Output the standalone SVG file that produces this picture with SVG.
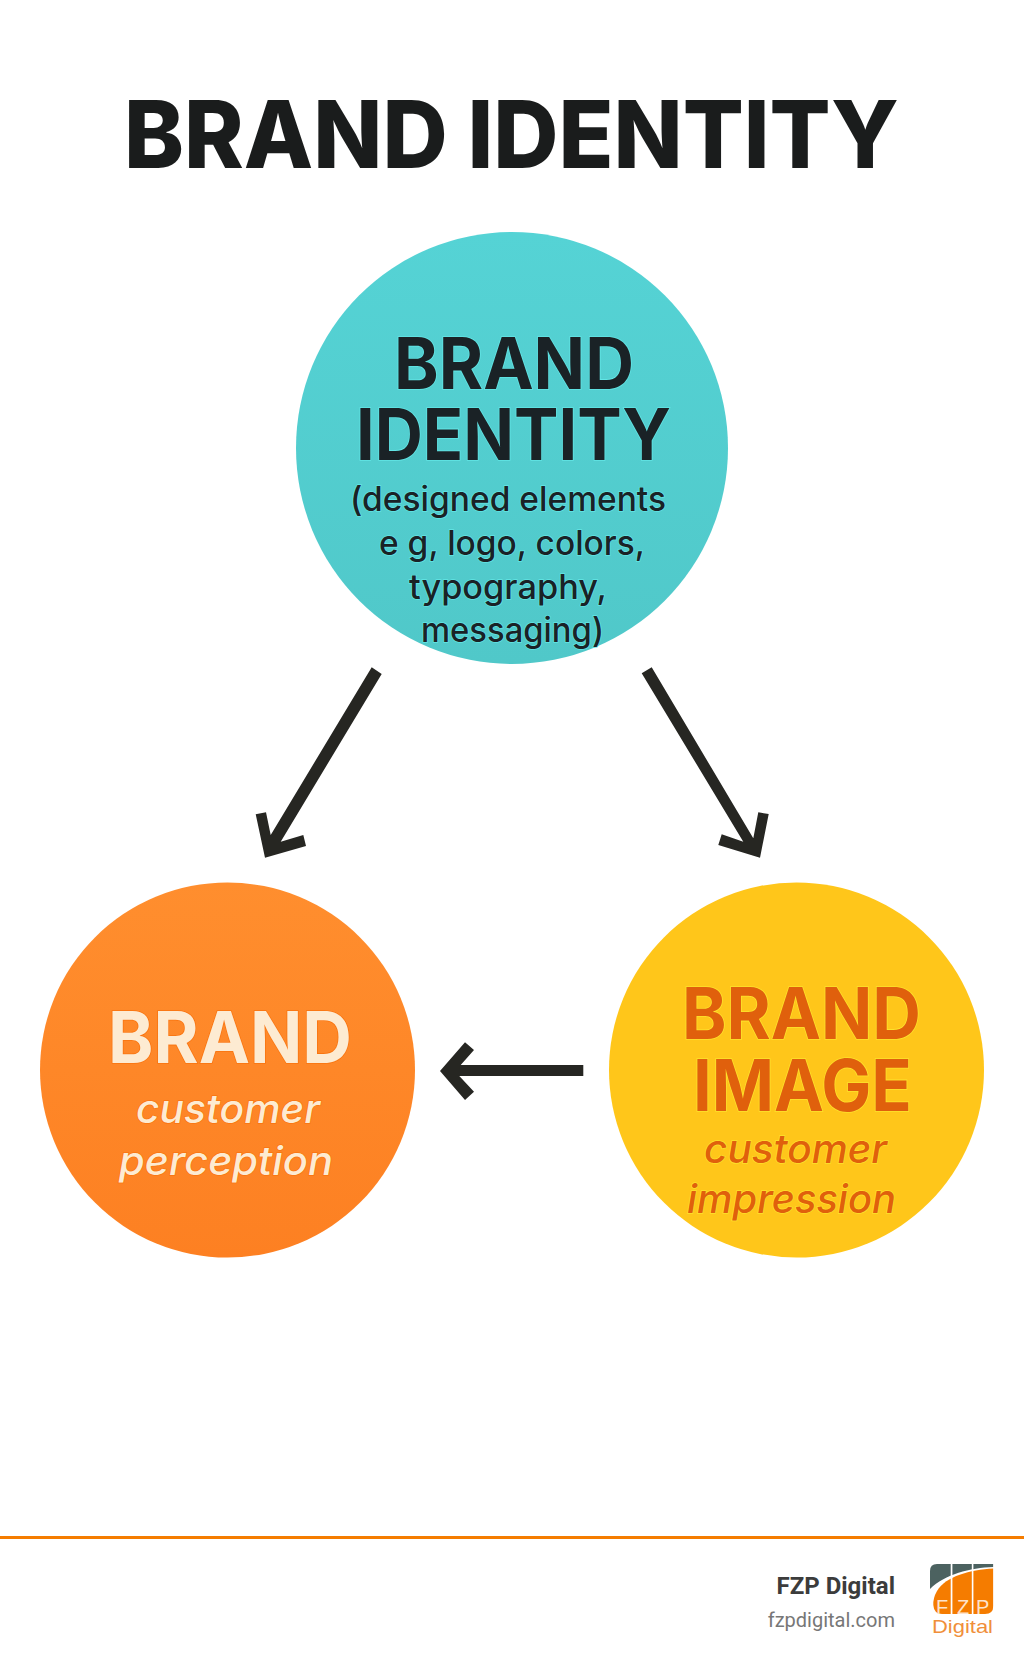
<svg xmlns="http://www.w3.org/2000/svg" width="1024" height="1666" viewBox="0 0 1024 1666">
<defs>
<linearGradient id="gt" x1="0" y1="0" x2="0" y2="1"><stop offset="0" stop-color="#55d3d5"/><stop offset="1" stop-color="#50c8c9"/></linearGradient>
<linearGradient id="go" x1="0" y1="0" x2="0" y2="1"><stop offset="0" stop-color="#ff8e2e"/><stop offset="1" stop-color="#fd8022"/></linearGradient>
<clipPath id="cols"><rect x="930" y="1560" width="20.7" height="60"/><rect x="952.4" y="1560" width="19.4" height="60"/><rect x="973.4" y="1560" width="20" height="60"/></clipPath>
</defs>
<style>
text{font-family:"Inter","Noto Sans","Liberation Sans",sans-serif}
.h{font-weight:700;font-size:71px;paint-order:stroke;stroke-width:1.6px}
.s{font-weight:500;font-size:34px;paint-order:stroke;stroke-width:1.4px}
.i{font-style:italic;font-weight:500;font-size:39px;paint-order:stroke;stroke-width:1.4px}
.t{fill:#1a2226;stroke:#62e6e6}
.o{fill:#fdebd2;stroke:#f9740f}
.y{fill:#e0600c;stroke:#fde22c}
.ft{font-family:"Roboto","Liberation Sans",sans-serif;text-anchor:end}
.lg{font-family:"Liberation Sans",Arial,sans-serif}
.arrow{fill:#262622}
</style>
<rect width="1024" height="1666" fill="#fff"/>
<text id="title" x="124" y="168" font-size="93.5" font-weight="800" fill="#1a1c1c" textLength="775" lengthAdjust="spacingAndGlyphs">BRAND IDENTITY</text>
<g id="node-identity">
<circle cx="512" cy="448" r="216" fill="url(#gt)"/>
<text class="h t" x="394" y="389" textLength="240" lengthAdjust="spacingAndGlyphs">BRAND</text>
<text class="h t" x="356" y="460" textLength="315" lengthAdjust="spacingAndGlyphs">IDENTITY</text>
<text class="s t" x="350" y="511" textLength="316" lengthAdjust="spacingAndGlyphs">(designed elements</text>
<text class="s t" x="379" y="555" textLength="266" lengthAdjust="spacingAndGlyphs">e g, logo, colors,</text>
<text class="s t" x="409" y="599" textLength="198" lengthAdjust="spacingAndGlyphs">typography,</text>
<text class="s t" x="421" y="642" textLength="183" lengthAdjust="spacingAndGlyphs">messaging)</text>
</g>
<g id="node-brand">
<circle cx="227.500" cy="1070" r="187.500" fill="url(#go)"/>
<text class="h o" x="108" y="1063" textLength="244" lengthAdjust="spacingAndGlyphs">BRAND</text>
<text class="i o" x="136" y="1123" textLength="184" lengthAdjust="spacingAndGlyphs">customer</text>
<text class="i o" x="119" y="1175" textLength="214" lengthAdjust="spacingAndGlyphs">perception</text>
</g>
<g id="node-image">
<circle cx="796.500" cy="1070" r="187.500" fill="#ffc61a"/>
<text class="h y" x="682" y="1039" textLength="239" lengthAdjust="spacingAndGlyphs">BRAND</text>
<text class="h y" x="693" y="1111" textLength="219" lengthAdjust="spacingAndGlyphs">IMAGE</text>
<text class="i y" x="704" y="1163" textLength="183" lengthAdjust="spacingAndGlyphs">customer</text>
<text class="i y" x="687" y="1213" textLength="209" lengthAdjust="spacingAndGlyphs">impression</text>
</g>
<g id="connectors">
<polygon class="arrow" points="371.700,667.300 381.700,674 280.700,841.700 303.300,835 306,846 265,857.700 255.700,814.300 266,812.300 270.700,835"/>
<polygon class="arrow" points="651.700,667.300 641.700,673.300 743.300,841.700 721.700,834.300 718.300,845 760,857.700 768.700,814 758.300,812.300 753.300,838.300"/>
<polygon class="arrow" points="583.300,1065 583.300,1076 459.300,1076 474,1091.700 465,1100 440,1071 465,1042.300 474,1050 460.700,1065"/>
</g>
<g id="footer">
<rect x="0" y="1536" width="1024" height="3" fill="#f57c00"/>
<text class="ft" x="895" y="1594" font-size="24" font-weight="700" fill="#3c3c3c">FZP Digital</text>
<text class="ft" x="895" y="1627" font-size="20" fill="#777">fzpdigital.com</text>
</g>
<g id="logo">
<g clip-path="url(#cols)">
<path d="M930 1589V1571Q930 1564 937 1564H993.300V1567C970 1568 945 1574 930 1589Z" fill="#4c6260"/>
<path d="M993.300 1568.500C970 1570 946 1576 937 1591Q933 1598 933.300 1605Q934 1614 942 1614H985Q993.300 1614 993.300 1606Z" fill="#f57c00"/>
</g>
<text class="lg" x="936" y="1613.500" font-size="20" fill="#fde3cc">F</text>
<text class="lg" x="957" y="1613.500" font-size="20" fill="#fde3cc">Z</text>
<text class="lg" x="976" y="1613.500" font-size="20" fill="#fde3cc">P</text>
<text class="lg" x="932" y="1633" font-size="19" fill="#f08f3a" textLength="61" lengthAdjust="spacingAndGlyphs">Digital</text>
</g>
</svg>
